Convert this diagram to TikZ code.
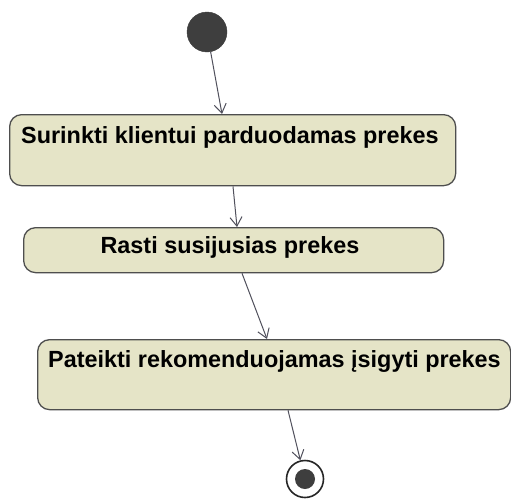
\documentclass[tikz,border=0pt]{standalone}
\usepackage{fontspec}
\setmainfont{Liberation Sans}
\usetikzlibrary{arrows.meta}
\definecolor{actfill}{RGB}{229,228,199}
\definecolor{actline}{RGB}{78,78,78}
\definecolor{flowline}{RGB}{80,80,92}
\definecolor{dot}{RGB}{62,62,62}
\begin{document}
\begin{tikzpicture}[x=1pt,y=-1pt,
  actbox/.style={draw=actline,fill=actfill,line width=1.3pt,rounded corners=12pt,
    rectangle,inner sep=0pt,anchor=north west},
  lbl/.style={font=\fontsize{23.4}{26}\selectfont\bfseries,inner sep=0pt,anchor=base west},
  flow/.style={draw=flowline,line width=1pt,-{Straight Barb[length=9pt,width=12pt,line width=1pt]}},
  startdot/.style={circle,fill=dot,draw=dot,minimum size=40pt,inner sep=0pt},
  endring/.style={circle,fill=white,draw=black!85,line width=1.6pt,minimum size=37pt,inner sep=0pt},
  enddot/.style={circle,fill=dot,minimum size=20pt,inner sep=0pt}]
\useasboundingbox (0,0) rectangle (511,498);
\fill[white] (0,0) rectangle (511,498);

% initial state
\node[startdot] (init) at (207,32) {};

% actions
\node[actbox,minimum width=446pt,minimum height=71pt] (a1) at (9,114) {};
\node[lbl] (t1) at (21,143) {Surinkti klientui parduodamas prekes};

\node[actbox,minimum width=420pt,minimum height=45pt] (a2) at (23,227) {};
\node[lbl,anchor=base] (t2) at (230,253) {Rasti susijusias prekes};

\node[actbox,minimum width=473pt,minimum height=70pt] (a3) at (37,339) {};
\node[lbl] (t3) at (48,367) {Pateikti rekomenduojamas įsigyti prekes};

% final state
\node[endring] (fin) at (305,479) {};
\node[enddot] (findot) at (fin.center) {};

% control flow
\draw[flow] (init) -- ([xshift=213pt]a1.north west);
\draw[flow] ([xshift=224pt]a1.south west) -- ([xshift=214pt]a2.north west);
\draw[flow] ([xshift=219pt]a2.south west) -- ([xshift=230pt]a3.north west);
\draw[flow] ([xshift=251pt]a3.south west) -- (fin);
\end{tikzpicture}
\end{document}
